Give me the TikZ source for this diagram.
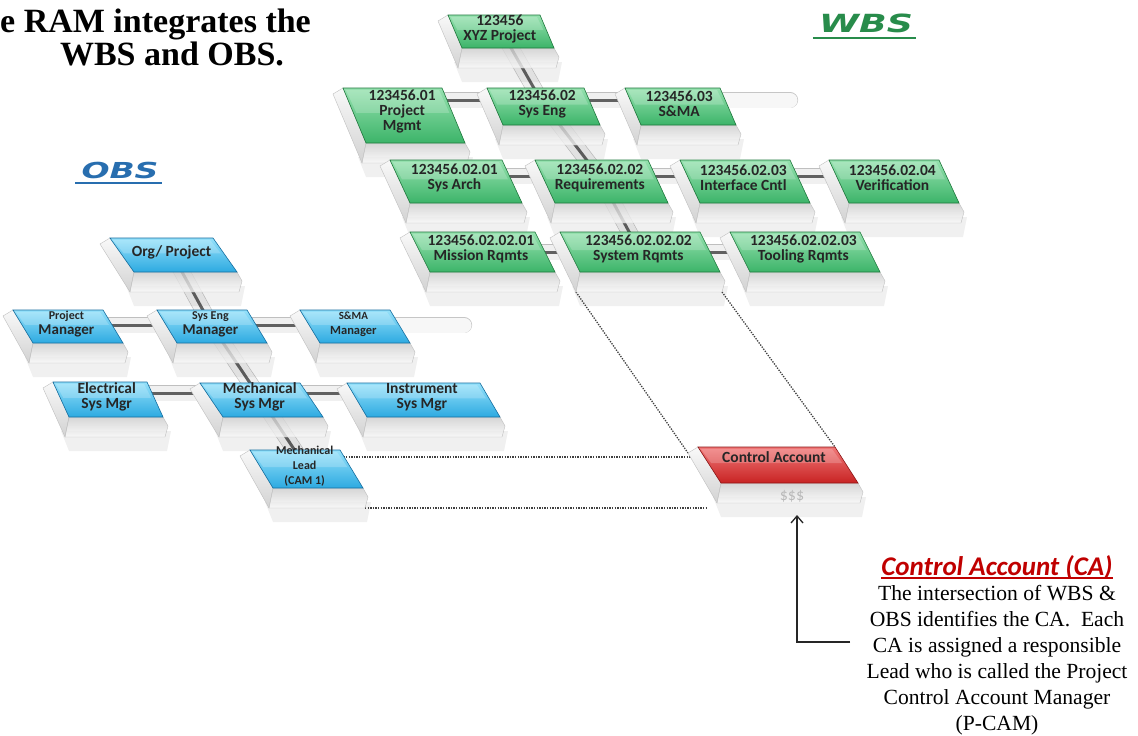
\documentclass[tikz,border=0pt]{standalone}
\usepackage{fontspec}
\usepackage{graphicx}
\setmainfont{Liberation Serif}
\newfontfamily\boxfont{Carlito}
\newfontfamily\labfont{DejaVu Sans}
\usetikzlibrary{calc,arrows.meta}
\definecolor{glight}{RGB}{150,225,175}
\definecolor{gbase}{RGB}{60,180,105}
\definecolor{gdark}{RGB}{30,120,60}
\definecolor{blight}{RGB}{150,225,250}
\definecolor{bbase}{RGB}{45,170,225}
\definecolor{bdark}{RGB}{20,110,160}
\definecolor{rlight}{RGB}{240,120,120}
\definecolor{rbase}{RGB}{200,35,35}
\definecolor{rdark}{RGB}{140,20,20}
\definecolor{wbsgreen}{RGB}{40,140,75}
\definecolor{obsblue}{RGB}{40,110,175}
\definecolor{cared}{RGB}{192,0,0}
\pgfdeclarelayer{bg}
\pgfdeclarelayer{paper}
\pgfsetlayers{paper,bg,main}
\newcommand\fsz[1]{\fontsize{#1}{#1}\selectfont}
% name, x, y, w, h, slant, colour prefix, text, connector depth
\newcommand\tbox[9]{%
 \begin{scope}[shift={(#2,#3)}]
  \fill[black,opacity=0.06] (#6-8,#5+14) -- (#4+#6+8,#5+14) -- (#4+#6+4,#5+34) -- (#6,#5+34) -- cycle;
  \shade[top color=gray!5,bottom color=gray!35,draw=gray!50,line width=0.4pt] (0,0) -- (#6,#5) -- (#6-4,#5+20) -- (-10,6) -- cycle;
  \shade[top color=gray!40,bottom color=gray!4,draw=gray!50,line width=0.4pt,fill opacity=0.8] (#6,#5) -- (#4+#6,#5) -- (#4+#6+5,#5+9) -- (#4+#6+2,#5+20) -- (#6-4,#5+20) -- cycle;
  \shade[top color=#7light,bottom color=#7base,draw=#7dark,line width=0.6pt] (0,0) -- (#4,0) -- (#4+#6,#5) -- (#6,#5) -- cycle;
  \fill[white,opacity=0.2] (3,2) -- (#4-3,2) -- ({#4-3+#6*0.45},{#5*0.45}) -- ({3+#6*0.45},{#5*0.45}) -- cycle;
  \coordinate (#1-m) at ({#4/2+#6*#9/#5},#9);
  \coordinate (#1-tl) at (0,0);
  \coordinate (#1-tr) at (#4,0);
  \coordinate (#1-bev) at (-10,6);
  \coordinate (#1-sbl) at (#6-4,#5+20);
  \coordinate (#1-sbr) at (#4+#6+2,#5+20);
  \node[boxtext] (#1) at ({#4/2+#6*0.42},{#5*0.42}) {#8};
 \end{scope}}
\begin{document}
\begin{tikzpicture}[x=1pt,y=-1pt,
  boxtext/.style={font=\boxfont\bfseries\fontsize{15.5}{15}\selectfont, text=black!85, align=center, inner sep=0pt},
  conn/.style={draw=black!62, line width=3pt, preaction={draw=gray!50, double=gray!12, double distance=15pt, line width=0.6pt}},
  glass/.style={draw=gray!45, double=gray!6, double distance=15pt, line width=0.6pt, line cap=round},
  dotline/.style={draw=black!75, line width=1.3pt, dash pattern=on 1.3pt off 1.3pt},
  arr/.style={draw=black!85, line width=1.3pt, -{Straight Barb[length=7pt,width=12pt]}}]
\useasboundingbox (0,0) rectangle (1138,736);
\begin{pgfonlayer}{paper}
\fill[white] (0,0) rectangle (1138,736);
\end{pgfonlayer}

% title and labels
\node[anchor=base west, font=\bfseries\fsz{34}, inner sep=0] (t1) at (0,32) {e RAM integrates the};
\node[anchor=base, font=\bfseries\fsz{34}, inner sep=0] (t2) at (172,65) {WBS and OBS.};
\node[anchor=base, font=\labfont\bfseries\itshape\fsz{25}, text=wbsgreen, inner sep=0] (wbs) at (866,32) {\scalebox{1.45}[1]{WBS}};
\draw[wbsgreen, line width=2pt] ([xshift=-6pt,yshift=-6pt]wbs.base west) -- ([xshift=3pt,yshift=-6pt]wbs.base east);
\node[anchor=base, font=\labfont\bfseries\itshape\fsz{22}, text=obsblue, inner sep=0] (obs) at (120,178) {\scalebox{1.5}[1]{OBS}};
\draw[obsblue, line width=2pt] ([xshift=-6pt,yshift=-5pt]obs.base west) -- ([xshift=3pt,yshift=-5pt]obs.base east);

% WBS
\tbox{xyz}{448}{15}{92}{33}{14}{g}{123456\\XYZ Project}{12}
\tbox{w01}{343}{88}{99}{55}{23}{g}{123456.01\\Project\\Mgmt}{12}
\tbox{w02}{487}{88}{97}{37}{16}{g}{123456.02\\Sys Eng}{12}
\tbox{w03}{625}{88}{95}{37}{16}{g}{123456.03\\S\&MA}{12}
\tbox{sysa}{390}{160}{112}{43}{20}{g}{123456.02.01\\Sys Arch}{16}
\tbox{req}{535}{160}{113}{43}{20}{g}{123456.02.02\\Requirements}{16}
\tbox{intf}{680}{160}{110}{43}{20}{g}{123456.02.03\\Interface Cntl}{16}
\tbox{verif}{829}{160}{110}{43}{20}{g}{123456.02.04\\Verification}{16}
\tbox{misr}{410}{232}{125}{40}{20}{g}{123456.02.02.01\\Mission Rqmts}{20}
\tbox{sysr}{560}{232}{140}{40}{20}{g}{123456.02.02.02\\System Rqmts}{20}
\tbox{tool}{730}{232}{130}{40}{20}{g}{123456.02.02.03\\Tooling Rqmts}{20}

% OBS
\tbox{org}{110}{238}{103}{34}{24}{b}{Org/ Project}{12}
\tbox{pm}{13}{310}{90}{33}{20}{b}{\fsz{12}Project\\\fsz{15}Manager}{15}
\tbox{sem}{157}{310}{90}{33}{20}{b}{\fsz{12}Sys Eng\\\fsz{15}Manager}{15}
\tbox{sma}{300}{310}{90}{33}{20}{b}{\fsz{11}S\&MA\\\fsz{12.5}Manager}{15}
\tbox{elec}{53}{382}{94}{35}{16}{b}{Electrical\\Sys Mgr}{11}
\tbox{mech}{200}{383}{100}{34}{23}{b}{Mechanical\\Sys Mgr}{10}
\tbox{inst}{347}{383}{133}{34}{20}{b}{Instrument\\Sys Mgr}{10}
\tbox{lead}{250}{450}{90}{38}{23}{b}{\fsz{12}Mechanical\\\fsz{12}Lead\\\fsz{12}(CAM 1)}{7}

% Control account
\tbox{ca}{698}{447}{137}{36}{23}{r}{}{10}
\node[boxtext, font=\boxfont\bfseries\fsz{15.5}] (catext) at (774,457) {Control Account};
\node[boxtext, font=\boxfont\fsz{16}, text=gray!55] (cadollar) at (792,496) {\$\$\$};
\coordinate (ca-lo) at ($(ca-tl)!0.5!(ca-sbl)$);

% connectors behind boxes
\coordinate (w03-end) at (790,100);
\coordinate (sma-end) at (464,325);
\begin{pgfonlayer}{bg}
 \draw[glass] (w03-m) -- (w03-end);
 \draw[glass] (sma-m) -- (sma-end);
 \draw[conn] (xyz-m) -- (w02-m);
 \draw[conn] (w01-m) -- (w02-m);
 \draw[conn] (w02-m) -- (w03-m);
 \draw[conn] (w02-m) -- (req-m);
 \draw[conn] (sysa-m) -- (req-m);
 \draw[conn] (req-m) -- (intf-m);
 \draw[conn] (intf-m) -- (verif-m);
 \draw[conn] (req-m) -- (sysr-m);
 \draw[conn] (misr-m) -- (sysr-m);
 \draw[conn] (sysr-m) -- (tool-m);
 \draw[conn] (org-m) -- (sem-m);
 \draw[conn] (pm-m) -- (sem-m);
 \draw[conn] (sem-m) -- (sma-m);
 \draw[conn] (sem-m) -- (mech-m);
 \draw[conn] (elec-m) -- (mech-m);
 \draw[conn] (mech-m) -- (inst-m);
 \draw[conn] (mech-m) -- (lead-m);
 \draw[dotline] (sysr-sbl) -- (ca-bev);
 \draw[dotline] (sysr-sbr) -- (ca-tr);
 \draw[dotline] (lead-m) -- (lead-m -| ca-m);
 \draw[dotline] (lead-sbr) -- (lead-sbr -| ca-lo);
\end{pgfonlayer}

% explanation
\node[font=\boxfont\bfseries\itshape\fsz{27}, text=cared, inner sep=0, anchor=base] (catitle) at (997,575) {Control Account (CA)};
\draw[cared, line width=1.4pt] ([yshift=-3pt]catitle.base west) -- ([yshift=-3pt]catitle.base east);
\node[font=\fontsize{21.6}{26}\selectfont, align=center, inner sep=0] (note) at (997,660)
 {The intersection of WBS \&\\OBS identifies the CA.~ Each\\CA is assigned a responsible\\Lead who is called the Project\\Control Account Manager\\(P-CAM)};
\coordinate (ab) at (850,642);
\coordinate (at) at (797,515);
\draw[arr] (ab) -| (at);
\end{tikzpicture}
\end{document}
